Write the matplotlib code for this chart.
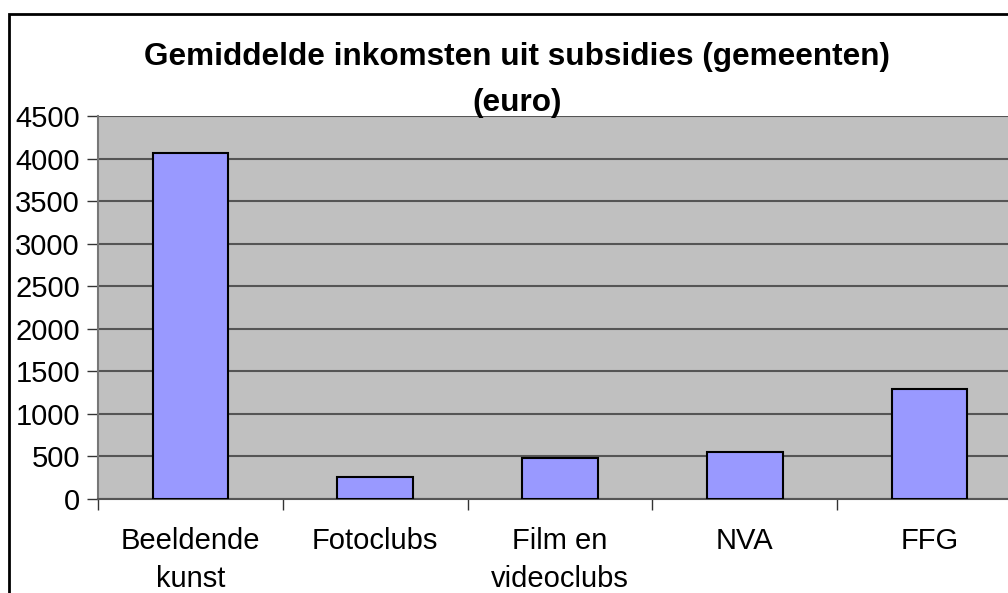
import matplotlib.pyplot as plt
from matplotlib.patches import Rectangle

categories = ["Beeldende\nkunst", "Fotoclubs", "Film en\nvideoclubs", "NVA", "FFG"]
values = [4070, 262, 480, 549, 1292]
yticks = [0, 500, 1000, 1500, 2000, 2500, 3000, 3500, 4000, 4500]

plt.rcParams["font.family"] = ["Liberation Sans", "DejaVu Sans"]

W, H = 1008, 593
fig = plt.figure(figsize=(W / 100, H / 100), dpi=100)

# outer chart border (cut off at right and bottom like the source)
fig.patches.append(Rectangle((9 / W, -0.1), 1.2, (H - 14) / H + 0.1,
                             transform=fig.transFigure, fill=False,
                             edgecolor="black", linewidth=2))

# plot area runs past the right edge of the image
left, right, top, bottom = 98, 98 + 5 * 184.8, 116, 499
ax = fig.add_axes([left / W, 1 - bottom / H, (right - left) / W, (bottom - top) / H])
ax.set_facecolor("#c0c0c0")

x = range(len(categories))
ax.bar(x, values, width=0.41, color="#9999ff", edgecolor="black", linewidth=1.5, zorder=3)

ax.set_xlim(-0.5, len(categories) - 0.5)
ax.set_ylim(0, 4500)
ax.set_yticks(yticks)
ax.yaxis.grid(True, color="#555555", linewidth=1.5, zorder=0)
ax.set_axisbelow(True)

ax.set_xticks(list(x))
ax.set_xticklabels(categories, fontsize=21, linespacing=1.45)
ax.set_xticks([i + 0.5 for i in range(-1, len(categories))], minor=True)
ax.tick_params(axis="x", which="major", length=0, pad=20)
ax.tick_params(axis="x", which="minor", length=8, width=1, color="#333333", direction="out")
ax.tick_params(axis="y", labelsize=21, length=8, width=1, color="#333333", pad=5)

for s in ["top", "right"]:
    ax.spines[s].set_visible(False)
ax.spines["left"].set_color("#777777")
ax.spines["left"].set_linewidth(1.5)
ax.spines["bottom"].set_color("#555555")
ax.spines["bottom"].set_linewidth(1.5)

fig.text(517 / W, 1 - 57 / H, "Gemiddelde inkomsten uit subsidies (gemeenten)",
         ha="center", va="center", fontsize=22.7, fontweight="bold")
fig.text(517 / W, 1 - 103 / H, "(euro)",
         ha="center", va="center", fontsize=22.7, fontweight="bold")

fig.savefig("out.png", dpi=100)
